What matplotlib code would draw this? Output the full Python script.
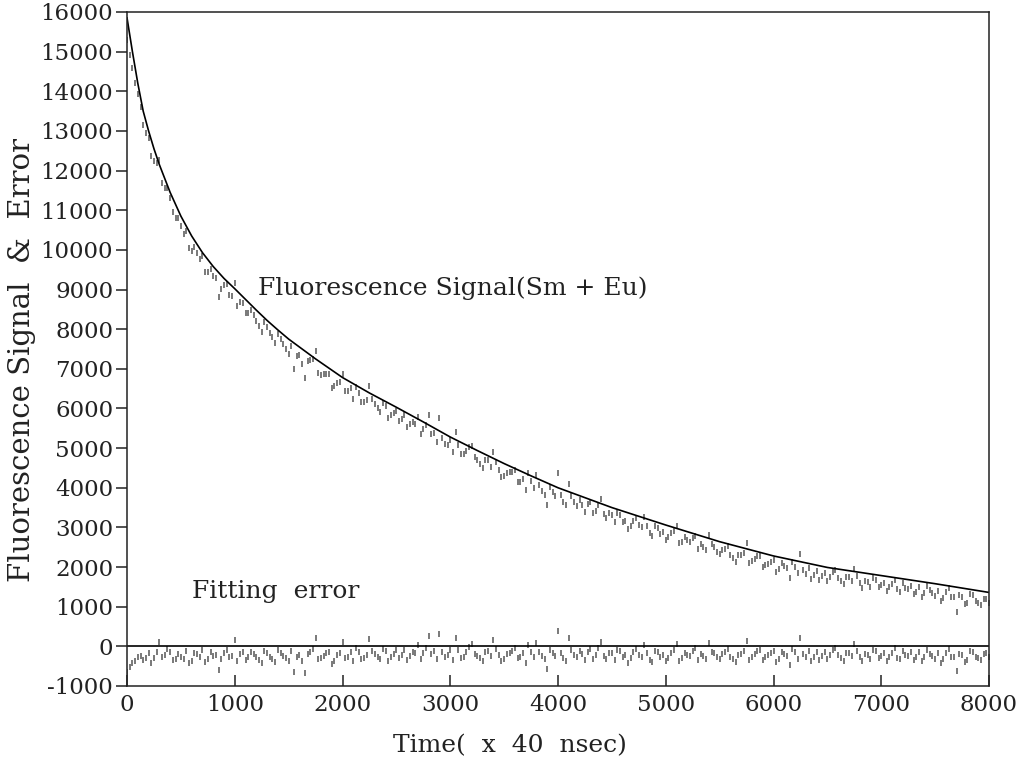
import matplotlib.pyplot as plt
import numpy as np

# fitted decay curve
FIT_T = [0, 50, 100, 150, 200, 250, 300, 400, 500, 600, 700, 800, 900, 1000,
         1100, 1200, 1300, 1400, 1500, 1750, 2000, 2250, 2500, 2750, 3000,
         3250, 3500, 3750, 4000, 4500, 5000, 5500, 6000, 6500, 7000, 7500, 8000]
FIT_Y = [15850, 15000, 14200, 13500, 13000, 12550, 12150, 11450, 10850, 10350,
         9930, 9580, 9280, 9020, 8750, 8480, 8220, 7980, 7750, 7250, 6780,
         6390, 6030, 5660, 5280, 4940, 4610, 4300, 4000, 3500, 3060, 2640,
         2280, 1990, 1785, 1580, 1360]

# measurement points read at t = 0, 50, 100, ... 8000
SAMPLE_T = np.arange(0, 8001, 50)
SIGNAL = [
    15300, 14580, 13920, 13150, 12820, 12250, 12270, 11560, 11300, 10810,
    10590, 10470, 9970, 9930, 9840, 9440, 9340, 8820, 9110, 8870,
    9170, 8680, 8400, 8480, 8210, 7930, 8060, 7790, 7890, 7620,
    7370, 7000, 7340, 6770, 7210, 7450, 6850, 6870, 6510, 6640,
    6880, 6440, 6240, 6390, 6170, 6570, 6120, 5910, 6060, 5840,
    5940, 5735, 5530, 5670, 5775, 5480, 5835, 5390, 5755, 5100,
    5200, 5410, 4840, 4935, 5065, 4700, 4495, 4695, 4890, 4455,
    4290, 4390, 4445, 4145, 3940, 4170, 4330, 3930, 3560, 3890,
    4380, 3650, 4100, 3640, 3680, 3400, 3640, 3420, 3720, 3240,
    3320, 3366, 3132, 2948, 3174, 3050, 3266, 2852, 3028, 2844,
    2680, 2848, 3036, 2644, 2682, 2740, 2468, 2516, 2814, 2502,
    2320, 2464, 2308, 2132, 2306, 2600, 2144, 2268, 2002, 2086,
    2170, 1941, 2022, 1733, 2014, 2335, 1836, 1697, 1908, 1769,
    1660, 1880, 1729, 1569, 1748, 1948, 1587, 1657, 1496, 1686,
    1535, 1385, 1574, 1434, 1593, 1443, 1312, 1492, 1351, 1411,
    1260, 1138, 1376, 1234, 872, 1250, 1098, 1286, 1104, 1192,
    1100]
ERROR = [
    -650, -420, -280, -350, -180, -300, 120, -220, -150, -330,
    -260, -120, -380, -200, -90, -310, -240, -600, -170, -280,
    150, -200, -350, -130, -270, -420, -160, -310, -90, -240,
    -380, -650, -210, -680, -140, 200, -300, -180, -450, -230,
    100, -260, -380, -150, -290, 180, -200, -330, -110, -260,
    -90, -220, -350, -140, 40, -180, 250, -120, 320, -260,
    -80, 200, -300, -140, 60, -240, -380, -110, 150, -220,
    -320, -160, -40, -280, -420, -130, 90, -250, -560, -170,
    380, -300, 200, -210, -120, -350, -60, -230, 120, -310,
    -180, -90, -280, -420, -150, -230, 30, -340, -120, -260,
    -380, -170, 60, -290, -210, -110, -340, -250, 90, -180,
    -320, -140, -260, -400, -190, 140, -280, -120, -350, -230,
    -110, -310, -200, -460, -150, 200, -270, -380, -140, -250,
    -330, -90, -220, -360, -160, 60, -280, -190, -330, -120,
    -250, -380, -170, -290, -110, -240, -350, -150, -270, -190,
    -320, -420, -160, -280, -620, -220, -350, -140, -300, -190,
    -260]

# in-between points read at t = 25, 75, ... 7975
MID_T = np.arange(25, 8000, 50)
SIGNAL_MID = [
    14905, 14220, 13610, 12950, 12365, 12200, 11685, 11555, 10945, 10795,
    10410, 10040, 10070, 9770, 9450, 9525, 9280, 9020, 9135, 8835,
    8590, 8665, 8400, 8345, 8075, 8175, 7900, 7640, 7740, 7505,
    7580, 7330, 7120, 7200, 7240, 6890, 6860, 6875, 6555, 6655,
    6450, 6510, 6540, 6170, 6215, 6235, 6010, 6145, 5755, 5875,
    5692, 5837, 5605, 5612, 5367, 5572, 5347, 5162, 5267, 5090,
    4895, 5075, 4847, 5020, 4782, 4607, 4700, 4522, 4647, 4282,
    4380, 4407, 4155, 4212, 4360, 4000, 4060, 3820, 4010, 3790,
    3815, 3555, 3785, 3545, 3575, 3595, 3365, 3575, 3335, 3355,
    3128, 3324, 3170, 3046, 3242, 2998, 3034, 2780, 2986, 2872,
    2749, 2897, 2595, 2753, 2621, 2789, 2587, 2425, 2573, 2391,
    2432, 2526, 2240, 2294, 2358, 2092, 2206, 2290, 2054, 2138,
    1865, 2106, 1967, 2118, 1839, 1930, 1981, 1792, 1683, 1854,
    1750, 1919, 1639, 1738, 1648, 1767, 1477, 1626, 1726, 1495,
    1605, 1494, 1684, 1383, 1483, 1532, 1372, 1251, 1511, 1350,
    1399, 1217, 1465, 1243, 1291, 1059, 1317, 1145, 1043, 1191]
ERROR_MID = [
    -520, -380, -240, -300, -410, -150, -280, -60, -350, -200,
    -310, -430, -170, -260, -390, -140, -220, -330, -80, -250,
    -360, -150, -280, -200, -340, -110, -260, -400, -180, -300,
    -120, -270, -380, -200, -60, -310, -240, -130, -360, -170,
    -290, -150, -40, -330, -210, -120, -270, -60, -380, -190,
    -300, -80, -240, -160, -330, -50, -200, -310, -130, -230,
    -350, -100, -260, -20, -190, -300, -140, -250, -60, -360,
    -200, -110, -300, -180, 30, -270, -150, -330, -80, -240,
    -160, -370, -90, -280, -200, -130, -310, -50, -240, -170,
    -350, -110, -220, -300, -60, -260, -180, -390, -140, -210,
    -290, -100, -360, -160, -250, -40, -200, -320, -130, -270,
    -190, -60, -310, -220, -120, -350, -200, -80, -280, -160,
    -400, -130, -240, -60, -310, -190, -110, -270, -350, -150,
    -230, -40, -300, -180, -250, -110, -380, -210, -90, -300,
    -170, -260, -50, -330, -210, -140, -280, -380, -100, -240,
    -170, -330, -60, -260, -190, -400, -120, -270, -350, -180]

XTICKS = [0, 1000, 2000, 3000, 4000, 5000, 6000, 7000, 8000]
YTICKS = list(range(-1000, 16001, 1000))

plt.rcParams['font.family'] = 'DejaVu Serif'

fig = plt.figure(figsize=(10.22, 7.74), dpi=100)
ax = fig.add_axes([0.1243, 0.1137, 0.8434, 0.8708])

dots = dict(linestyle='none', marker='|', ms=4.5, mew=1.1,
            color='#2a2a2a', alpha=0.8)
ax.plot(SAMPLE_T, SIGNAL, **dots)
ax.plot(MID_T, SIGNAL_MID, **dots)
ax.plot(SAMPLE_T, ERROR, **dots)
ax.plot(MID_T, ERROR_MID, **dots)
ax.plot(FIT_T, FIT_Y, color='black', lw=1.2)
ax.axhline(0, color='black', lw=1.2)

ax.set_xlim(0, 8000)
ax.set_ylim(-1000, 16000)
ax.set_xticks(XTICKS)
ax.set_yticks(YTICKS)
ax.set_yticklabels(['-1000' if v < 0 else str(v) for v in YTICKS])

ax.tick_params(axis='y', direction='out', length=8, width=1.1, pad=2,
               labelsize=16.5, colors='#222222')
ax.tick_params(axis='x', direction='in', length=8, width=1.1, pad=6,
               labelsize=16.5, colors='#222222')
for s in ax.spines.values():
    s.set_linewidth(1.1)
    s.set_color('#222222')

ax.text(1216, 9030, 'Fluorescence Signal(Sm + Eu)', fontsize=18,
        va='center', ha='left', color='#222222')
ax.text(603, 1387, 'Fitting  error', fontsize=18,
        va='center', ha='left', color='#222222')

fig.text(510 / 1022, 1 - 746 / 774, 'Time(  x  40  nsec)', fontsize=18,
         ha='center', va='center', color='#222222')
fig.text(22 / 1022, 1 - 360 / 774, 'Fluorescence Signal  &  Error',
         fontsize=21, rotation=90, ha='center', va='center', color='#222222')

fig.savefig('out.png', dpi=100)
